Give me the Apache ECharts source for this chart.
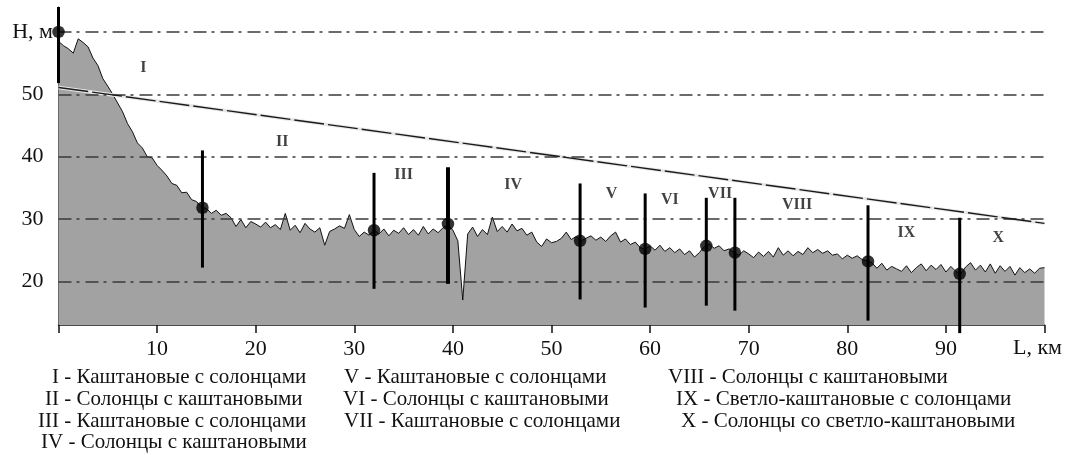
<!DOCTYPE html>
<html>
<head>
<meta charset="utf-8">
<script src="https://cdn.jsdelivr.net/npm/echarts@6/dist/echarts.min.js"></script>
<style>html,body{margin:0;padding:0;background:#fff}#chart{width:1072px;height:455px}</style>
</head>
<body>
<div id="chart"></div>
<script>
// ---- data ----
const profileStepKm = 0.5;
const profileH = [
  58.5, 57.8, 57.3, 56.6, 58.9, 58.3, 57.6, 55.8, 54.6, 52.5,
  51.3, 50.0, 48.6, 47.2, 45.3, 44.0, 42.2, 41.4, 40.0, 39.8,
  38.6, 37.8, 36.9, 35.7, 35.4, 34.2, 34.3, 33.1, 32.8, 31.9,
  31.7, 30.9, 31.4, 30.6, 30.9, 30.2, 28.8, 29.9, 28.6, 29.6,
  29.2, 28.7, 29.5, 28.6, 29.1, 28.3, 30.9, 28.2, 29.0, 27.8,
  29.3, 28.4, 27.9, 28.6, 25.8, 28.0, 28.4, 28.9, 28.5, 30.7,
  28.3, 27.2, 27.9, 27.4, 28.3, 27.6, 28.4, 27.3, 28.2, 27.7,
  28.6, 27.5, 28.3, 27.4, 28.8, 27.6, 28.4, 27.8, 28.6, 29.1,
  28.2, 26.5, 17.0, 27.6, 28.7, 27.2, 28.3, 27.5, 30.3, 28.0,
  28.8, 27.9, 29.2, 28.1, 28.5, 27.4, 27.9, 26.3, 25.6, 26.8,
  26.2, 26.4, 26.9, 27.9, 26.7, 27.2, 26.5, 26.9, 27.3, 26.6,
  27.1, 26.4, 27.3, 27.9, 26.3, 26.8, 25.9, 26.3, 25.4, 25.2,
  25.7, 25.0, 25.8, 24.8, 25.4, 24.6, 25.2, 24.3, 24.9, 23.9,
  24.6, 25.6, 26.0, 25.3, 25.7, 24.9, 25.2, 24.6, 24.2, 24.9,
  24.4, 23.8, 24.7, 24.0, 24.8, 23.9, 25.4, 24.2, 24.9, 24.1,
  24.8, 24.3, 25.4, 24.6, 25.1, 24.5, 24.9, 24.2, 24.4, 23.6,
  24.2, 23.7, 24.1, 23.5, 23.3, 23.0, 22.1, 22.9, 21.8, 22.4,
  22.0, 21.6, 22.5, 21.4, 22.2, 22.8, 21.7, 22.6, 21.9, 22.7,
  21.5, 22.4, 21.6, 21.2, 22.3, 23.0, 21.8, 22.6, 21.5, 22.8,
  21.3, 22.5, 21.6, 22.4, 21.0, 22.2, 21.4, 22.0, 21.3, 22.1,
  22.2
];
const pointL      = [0,    14.6, 32.0, 39.5, 52.9, 59.5, 65.7, 68.6, 82.1, 91.4];
const pointH      = [60,   31.8, 28.2, 29.2, 26.5, 25.2, 25.7, 24.6, 23.2, 21.2];
const pointTop    = [64,   41.0, 37.4, 38.3, 35.7, 34.1, 33.4, 33.4, 32.2, 30.2];
const pointBottom = [51.8, 22.2, 18.8, 19.6, 17.1, 15.8, 16.1, 15.3, 13.7, 11.7];
const trendL = [0, 100];
const trendH = [51.1, 29.3];
const zoneNames = ['I','II','III','IV','V','VI','VII','VIII','IX','X'];
const zoneL = [8.6, 22.7, 35.0, 46.1, 56.1, 62.0, 67.1, 74.9, 86.0, 95.3];
const zoneH = [54.2, 42.3, 37.0, 35.4, 34.1, 33.0, 34.1, 32.2, 27.8, 26.9];
const gridLevels = [20, 30, 40, 50, 60];
const yTickValues = [20, 30, 40, 50];
const yAxisTitle = 'H, м';
const xAxisTitle = 'L, км';
const legendCol1 = ['I - Каштановые с солонцами','II - Солонцы с каштановыми','III - Каштановые с солонцами','IV - Солонцы с каштановыми'];
const legendCol2 = ['V - Каштановые с солонцами','VI - Солонцы с каштановыми','VII - Каштановые с солонцами'];
const legendCol3 = ['VIII - Солонцы с каштановыми','IX - Светло-каштановые с солонцами','X - Солонцы со светло-каштановыми'];

// ---- layout ----
const SERIF = '"Liberation Serif", "DejaVu Serif", serif';
const legendRowsY = [377, 399, 421, 442];
const col1X = [52, 45, 38, 41];
const col2X = [344, 343, 344];
const col3X = [668, 676, 681];

const profileData = profileH.map((h, i) => [i * profileStepKm, h]);

const series = [];
series.push({
  type: 'line', data: profileData, symbol: 'none', z: 2,
  lineStyle: {color: '#111', width: 1},
  areaStyle: {color: '#a2a2a2', opacity: 1, origin: 'start'},
  silent: true
});
series.push({
  type: 'line', data: [], z: 3, silent: true,
  markLine: {
    silent: true, symbol: 'none', label: {show: false},
    lineStyle: {color: '#3a3a3a', width: 1.6, type: [13, 5, 3, 6]},
    emphasis: {disabled: true},
    data: gridLevels.map(v => ({yAxis: v}))
  }
});
series.push({
  type: 'line', data: trendL.map((l, i) => [l, trendH[i]]), symbol: 'none', z: 4, silent: true,
  lineStyle: {color: '#e8e8e8', width: 3.5}
});
series.push({
  type: 'line', data: trendL.map((l, i) => [l, trendH[i]]), symbol: 'none', z: 5, silent: true,
  lineStyle: {color: '#1a1a1a', width: 1.4, type: [30, 4]}
});
pointL.forEach((l, i) => {
  series.push({
    type: 'line', data: [[l, pointBottom[i]], [l, pointTop[i]]], symbol: 'none', z: 6, silent: true,
    clip: false,
    lineStyle: {color: '#000', width: i === 3 ? 4 : 3}
  });
});
series.push({
  type: 'scatter', data: pointL.map((l, i) => [l, pointH[i]]), symbol: 'circle', symbolSize: 12.5,
  itemStyle: {color: '#000'}, z: 7, silent: true, clip: false
});
series.push({
  type: 'scatter', z: 8, silent: true, symbolSize: 0,
  data: zoneNames.map((n, i) => ({name: n, value: [zoneL[i], zoneH[i]]})),
  label: {show: true, position: 'inside', formatter: p => p.name,
    fontFamily: SERIF, fontWeight: 'bold', fontSize: 16, color: '#111'}
});

const graphics = [];
graphics.push({type: 'text', style: {text: yAxisTitle, x: 53, y: 32, align: 'right', verticalAlign: 'middle',
  fontFamily: SERIF, fontSize: 22, fill: '#111'}});
graphics.push({type: 'text', style: {text: xAxisTitle, x: 1062, y: 348, align: 'right', verticalAlign: 'middle',
  fontFamily: SERIF, fontSize: 22, fill: '#111'}});
[[legendCol1, col1X], [legendCol2, col2X], [legendCol3, col3X]].forEach(([texts, xs]) => {
  texts.forEach((t, i) => {
    graphics.push({type: 'text', style: {text: t, x: xs[i], y: legendRowsY[i], align: 'left', verticalAlign: 'middle',
      fontFamily: SERIF, fontSize: 21, fill: '#111'}});
  });
});

const chart = echarts.init(document.getElementById('chart'), null, {renderer: 'canvas'});
chart.setOption({
  animation: false,
  backgroundColor: '#fff',
  grid: {left: 58.5, right: 27.5, top: 7, bottom: 130, containLabel: false},
  xAxis: {
    type: 'value', min: 0, max: 100, interval: 10,
    axisLine: {show: true, lineStyle: {color: '#111', width: 1.5}},
    axisTick: {show: true, inside: false, length: 8, lineStyle: {color: '#111', width: 1.5}},
    splitLine: {show: false},
    axisLabel: {margin: 13, fontFamily: SERIF, fontSize: 22, color: '#111',
      formatter: v => (v === 0 || v === 100) ? '' : String(v)}
  },
  yAxis: {
    type: 'value', min: 13, max: 64,
    axisLine: {show: true, lineStyle: {color: '#333', width: 1}},
    axisTick: {show: false},
    splitLine: {show: false},
    axisLabel: {margin: 15, fontFamily: SERIF, fontSize: 22, color: '#111', customValues: yTickValues}
  },
  graphic: graphics,
  series: series
});
</script>
</body>
</html>
